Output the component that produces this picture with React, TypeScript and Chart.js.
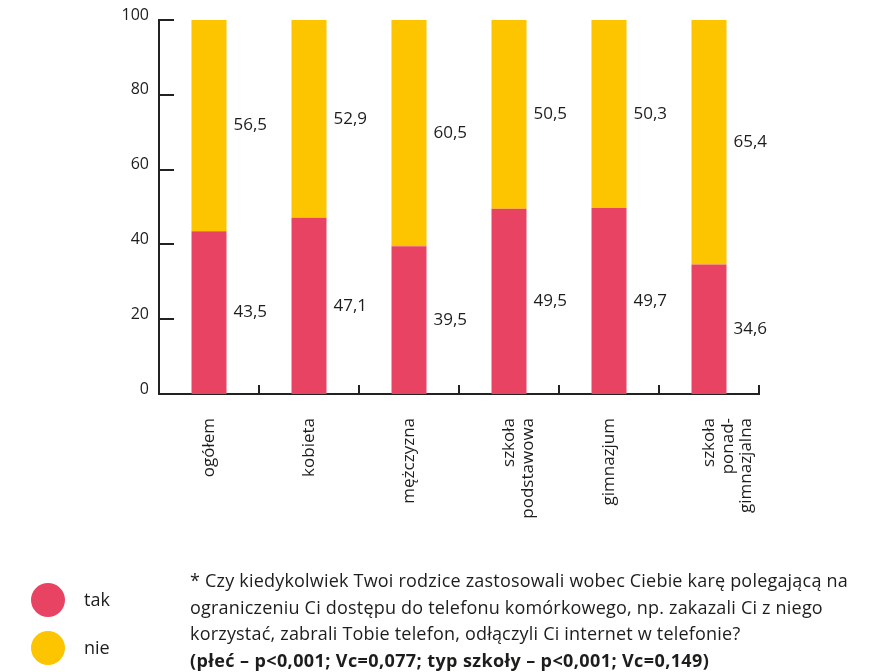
import React, { useEffect, useRef } from "react";
import { Chart, registerables } from "chart.js";

Chart.register(...registerables);

const categories: string[][] = [
  ["ogółem"],
  ["kobieta"],
  ["mężczyzna"],
  ["szkoła", "podstawowa"],
  ["gimnazjum"],
  ["szkoła", "ponad-", "gimnazjalna"],
];
const takValues = [43.5, 47.1, 39.5, 49.5, 49.7, 34.6];
const nieValues = [56.5, 52.9, 60.5, 50.5, 50.3, 65.4];
const yTicks = [0, 20, 40, 60, 80, 100];
const seriesNames = ["tak", "nie"];
const footnoteLines = [
  "* Czy kiedykolwiek Twoi rodzice zastosowali wobec Ciebie karę polegającą na",
  "ograniczeniu Ci dostępu do telefonu komórkowego, np. zakazali Ci z niego",
  "korzystać, zabrali Tobie telefon, odłączyli Ci internet w telefonie?",
];
const footnoteBold = "(płeć – p<0,001; Vc=0,077; typ szkoły – p<0,001; Vc=0,149)";

const PINK = "#E94363";
const YELLOW = "#FDC400";
const TEXT = "#1d1d1b";
const AXIS = "#222222";
const FONT = "'Open Sans', Lato, sans-serif";

const decorPlugin = {
  id: "decor",
  afterDatasetsDraw(chart: any) {
    const ctx = chart.ctx;
    const area = chart.chartArea;
    const x = chart.scales.x;
    const y = chart.scales.y;
    ctx.save();
    ctx.strokeStyle = AXIS;
    ctx.lineWidth = 2;
    // inward y ticks
    yTicks.forEach((v) => {
      const py = Math.round(y.getPixelForValue(v));
      ctx.beginPath();
      ctx.moveTo(area.left, py);
      ctx.lineTo(area.left + 15, py);
      ctx.stroke();
    });
    // category boundary ticks
    for (let i = 1; i <= categories.length; i++) {
      const px = Math.round(x.getPixelForValue(i - 0.5));
      ctx.beginPath();
      ctx.moveTo(px, area.bottom);
      ctx.lineTo(px, area.bottom - 9);
      ctx.stroke();
    }
    // value labels
    ctx.fillStyle = TEXT;
    ctx.font = `17px ${FONT}`;
    ctx.textAlign = "left";
    ctx.textBaseline = "middle";
    chart.data.datasets.forEach((ds: any, di: number) => {
      const meta = chart.getDatasetMeta(di);
      meta.data.forEach((el: any, i: number) => {
        const v = ds.data[i] as number;
        const label = v.toFixed(1).replace(".", ",");
        const cy = (el.y + el.base) / 2;
        ctx.fillText(label, el.x + el.width / 2 + 7, cy);
      });
    });
    ctx.restore();
  },
};

export default function App() {
  const ref = useRef<HTMLCanvasElement>(null);
  useEffect(() => {
    document.body.style.margin = "0";
    const chart = new Chart(ref.current!, {
      type: "bar",
      data: {
        labels: categories,
        datasets: [
          {
            label: seriesNames[0],
            data: takValues,
            backgroundColor: PINK,
            barPercentage: 0.35,
            categoryPercentage: 1,
          },
          {
            label: seriesNames[1],
            data: nieValues,
            backgroundColor: YELLOW,
            barPercentage: 0.35,
            categoryPercentage: 1,
          },
        ],
      },
      options: {
        responsive: false,
        animation: false,
        layout: { padding: { top: 20, right: 116, left: 0, bottom: 0 } },
        plugins: {
          legend: { display: false },
          tooltip: { enabled: false },
        },
        scales: {
          x: {
            stacked: true,
            grid: { display: false, drawTicks: false },
            border: { display: true, color: AXIS, width: 2 },
            ticks: {
              maxRotation: 90,
              minRotation: 90,
              padding: 24,
              color: TEXT,
              font: { family: FONT, size: 17, lineHeight: 1.1 },
              autoSkip: false,
            },
            afterFit: (s: any) => {
              s.height = 278;
            },
          },
          y: {
            stacked: true,
            min: 0,
            max: 100,
            grid: { display: false, drawTicks: false },
            border: { display: true, color: AXIS, width: 2 },
            ticks: {
              stepSize: 20,
              padding: 10,
              labelOffset: -5,
              color: TEXT,
              font: { family: FONT, size: 16 },
            },
            afterFit: (s: any) => {
              s.width = 159;
            },
          },
        },
      },
      plugins: [decorPlugin],
    });
    return () => chart.destroy();
  }, []);

  const textStyle: React.CSSProperties = {
    fontFamily: FONT,
    fontSize: 18,
    color: TEXT,
    position: "absolute",
    whiteSpace: "nowrap",
  };

  return (
    <div style={{ position: "relative", width: 875, height: 672, overflow: "hidden", background: "#fff" }}>
      <canvas ref={ref} width={875} height={672} style={{ position: "absolute", left: 0, top: 0 }} />
      {[PINK, YELLOW].map((c, i) => (
        <React.Fragment key={i}>
          <div
            style={{
              position: "absolute",
              left: 31,
              top: 583 + i * 48,
              width: 34,
              height: 34,
              borderRadius: "50%",
              background: c,
            }}
          />
          <div style={{ ...textStyle, left: 84, top: 588 + i * 48, lineHeight: "22px" }}>{seriesNames[i]}</div>
        </React.Fragment>
      ))}
      <div style={{ ...textStyle, left: 190, top: 567, lineHeight: "26.5px", letterSpacing: "0.2px" }}>
        {footnoteLines.map((l, i) => (
          <div key={i}>{l}</div>
        ))}
        <div style={{ fontWeight: 700, letterSpacing: "0.4px" }}>{footnoteBold}</div>
      </div>
    </div>
  );
}
